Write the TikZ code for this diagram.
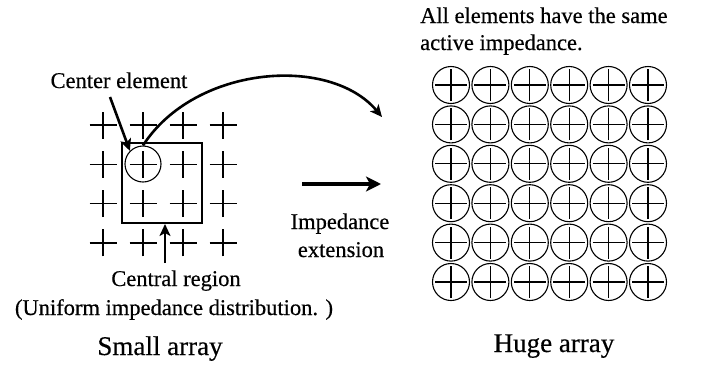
\documentclass[tikz,border=0pt]{standalone}
\usepackage{fontspec}
\setmainfont{Liberation Serif}[FakeBold=0.4]
\usetikzlibrary{arrows.meta}
\begin{document}
\begin{tikzpicture}[x=1pt,y=-1pt,
  txt/.style={font=\fontsize{22.5}{27}\selectfont, inner sep=0pt, anchor=base},
  bigtxt/.style={font=\fontsize{27}{32}\selectfont, inner sep=0pt, anchor=base},
  crossline/.style={line width=1.3pt},
  elem/.style={circle, draw, line width=1.1pt, minimum size=37pt, inner sep=0pt},
  regionbox/.style={draw, line width=2pt, minimum width=80pt, minimum height=80pt, inner sep=0pt},
  thinarrow/.style={line width=2.6pt, -{Stealth[length=12pt,width=11pt,inset=3pt]}},
  fatarrow/.style={line width=4pt, -{Stealth[length=15pt,width=15pt,inset=4pt]}}
]
\useasboundingbox (0,0) rectangle (702,365);

% small array crosses
\foreach \c in {0,...,3}{
  \foreach \r in {0,...,3}{
    \coordinate (s\c\r) at ({103+40*\c},{125+39.3*\r});
    \draw[crossline] ([xshift=-13.5pt]s\c\r) -- ([xshift=13.5pt]s\c\r);
    \draw[crossline] ([yshift=-13.5pt]s\c\r) -- ([yshift=13.5pt]s\c\r);
  }
}
% center element and central region
\node[elem, minimum size=36pt] (ce) at (143,164) {};
\node[regionbox] (cr) at (162,183) {};

% huge array
\foreach \c in {0,...,5}{
  \foreach \r in {0,...,5}{
    \node[elem] (h\c\r) at ({451+39.4*\c},{85+39.4*\r}) {};
    \draw[crossline] ([xshift=-16pt]h\c\r.center) -- ([xshift=16pt]h\c\r.center);
    \draw[crossline] ([yshift=-16pt]h\c\r.center) -- ([yshift=16pt]h\c\r.center);
  }
}

% texts
\node[txt, anchor=base west] (all1) at (420,23) {All elements have the same};
\node[txt, anchor=base west] (all2) at (420,50) {active impedance.};
\node[txt] (cel) at (119,88) {Center element};
\node[txt] (imp) at (340,229) {Impedance};
\node[txt] (ext) at (341,257) {extension};
\node[txt] (crl) at (176,286) {Central region};
\node[txt] (uni) at (174,315) {(Uniform impedance distribution. )};
\node[bigtxt] (small) at (160,355) {Small array};
\node[bigtxt] (huge) at (554,352) {Huge array};

% connectors
\coordinate (celtail) at (110,97);
\draw[thinarrow] (celtail) -- (ce.135);
\coordinate (curvetip) at (382,117);
\draw[thinarrow] (ce.north) .. controls (195,65) and (330,55) .. (curvetip);
\coordinate (sa1) at (302,184);
\coordinate (sa2) at (381,184);
\draw[fatarrow] (sa1) -- (sa2);
\coordinate (upt) at (165,263);
\draw[thinarrow] (upt) -- (upt |- cr.south);
\end{tikzpicture}
\end{document}
